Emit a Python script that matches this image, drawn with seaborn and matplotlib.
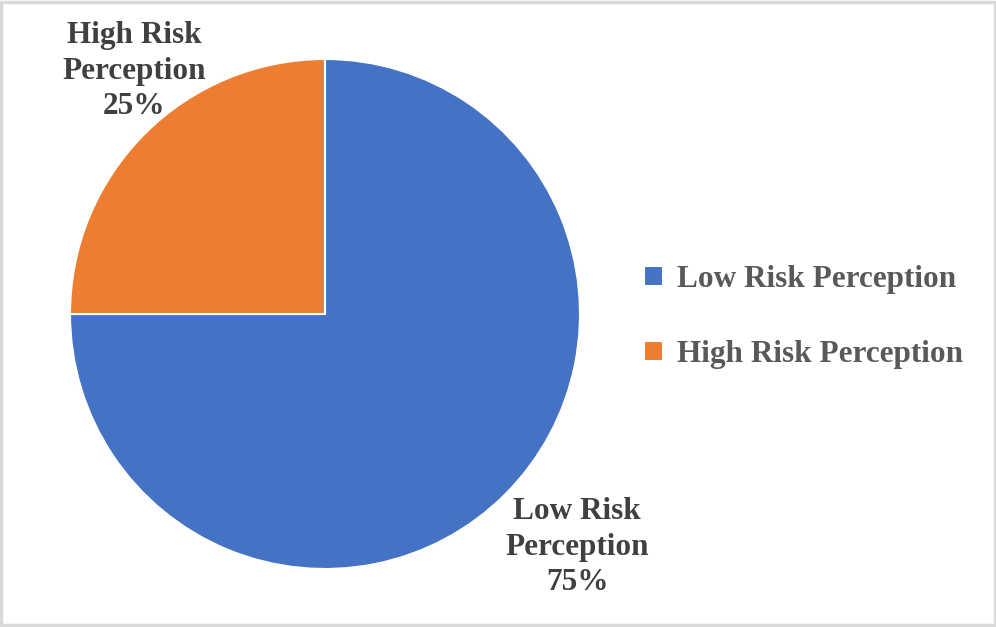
import matplotlib
matplotlib.use("Agg")
import matplotlib.pyplot as plt
from matplotlib.patches import Rectangle
import seaborn as sns

categories = ["Low Risk Perception", "High Risk Perception"]
values = [75, 25]
label_lines = ["Low Risk\nPerception\n75%", "High Risk\nPerception\n25%"]
colors = ["#4472C4", "#ED7D31"]

sns.set_theme(style="white")
plt.rcParams["font.family"] = ["Liberation Serif", "DejaVu Serif"]

W, H = 996, 627
fig = plt.figure(figsize=(W / 100, H / 100), dpi=100)
ax = fig.add_axes([0, 0, 1, 1])

cx, cy, r = 325, 313, 255
wedges, _ = ax.pie(values, colors=colors, startangle=90, counterclock=False,
                   center=(cx, cy), radius=r,
                   wedgeprops=dict(edgecolor="white", linewidth=1.5))
ax.set_xlim(0, W)
ax.set_ylim(0, H)
ax.set_aspect("equal")
ax.axis("off")

label_pos = [(577, H - 547), (134, H - 71)]
for txt, (x, y) in zip(label_lines, label_pos):
    ax.text(x, y, txt, ha="center", va="center", fontsize=22.5, fontweight="bold",
            color="#404040", linespacing=1.3)

leg = ax.legend(wedges, categories, loc="center left",
                bbox_to_anchor=(644 / W, 310 / H), bbox_transform=fig.transFigure,
                frameon=False, borderpad=0, borderaxespad=0,
                handlelength=0.6, handleheight=0.6, handletextpad=0.45,
                labelspacing=1.48, prop=dict(size=22.5, weight="bold"))
for t in leg.get_texts():
    t.set_color("#595959")

fig.patches.append(Rectangle((0.0015, 0.0025), 0.997, 0.995, transform=fig.transFigure,
                             fill=False, edgecolor="#d9d9d9", linewidth=2.5))

fig.savefig("out.png", dpi=100)
